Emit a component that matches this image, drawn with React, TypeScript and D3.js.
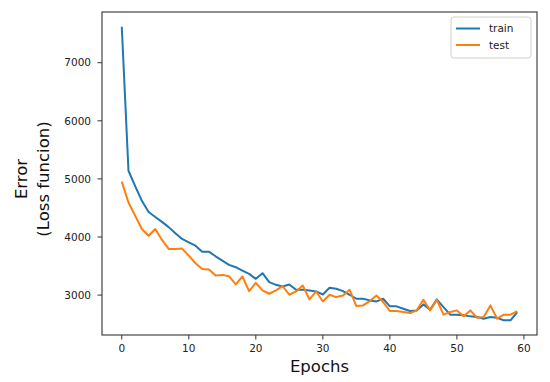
import React from "react";
import * as d3 from "d3";

const epochs = d3.range(0, 60);

const trainLoss = [
  7620, 5140, 4877, 4623, 4430, 4345, 4260, 4170, 4065, 3966,
  3908, 3851, 3748, 3748, 3668, 3594, 3520, 3480, 3423, 3366,
  3280, 3377, 3223, 3177, 3149, 3183, 3091, 3091, 3080, 3063,
  3011, 3126, 3109, 3069, 3006, 2937, 2937, 2909, 2891, 2937,
  2806, 2806, 2766, 2726, 2737, 2840, 2749, 2926, 2794, 2663,
  2663, 2652, 2634, 2623, 2594, 2623, 2611, 2566, 2566, 2709,
];

const testLoss = [
  4954, 4594, 4366, 4138, 4023, 4138, 3949, 3795, 3795, 3800,
  3680, 3548, 3451, 3440, 3337, 3348, 3326, 3183, 3320, 3069,
  3211, 3080, 3023, 3080, 3154, 3006, 3063, 3166, 2926, 3063,
  2891, 3006, 2966, 2994, 3091, 2811, 2823, 2897, 2994, 2880,
  2726, 2726, 2709, 2691, 2737, 2920, 2737, 2920, 2663, 2709,
  2737, 2634, 2737, 2611, 2623, 2823, 2594, 2663, 2663, 2726,
];

const xTicks = [0, 10, 20, 30, 40, 50, 60];
const yTicks = [3000, 4000, 5000, 6000, 7000];

const seriesNames = ["train", "test"];
const seriesColors = ["#1f77b4", "#ff7f0e"];

const App: React.FC = () => {
  const width = 550;
  const height = 382;
  const margin = { top: 12, right: 13, bottom: 47, left: 102 };
  const innerWidth = width - margin.left - margin.right;
  const innerHeight = height - margin.top - margin.bottom;

  // matplotlib style 5% margins around the data
  const xPad = (d3.max(epochs)! - d3.min(epochs)!) * 0.05;
  const allY = trainLoss.concat(testLoss);
  const yMin = d3.min(allY)!;
  const yMax = d3.max(allY)!;
  const yPad = (yMax - yMin) * 0.05;

  const xScale = d3
    .scaleLinear()
    .domain([d3.min(epochs)! - xPad, d3.max(epochs)! + xPad])
    .range([0, innerWidth]);

  const yScale = d3
    .scaleLinear()
    .domain([yMin - yPad, yMax + yPad])
    .range([innerHeight, 0]);

  const line = d3
    .line<number>()
    .x((_, i) => xScale(epochs[i]))
    .y((d) => yScale(d));

  const font = "'DejaVu Sans', sans-serif";
  const tickColor = "#222";

  return (
    <div style={{ position: "absolute", left: 0, top: 0 }}>
      <svg width={width} height={height} style={{ display: "block", background: "white" }}>
        <g transform={`translate(${margin.left}, ${margin.top})`}>
          {/* lines */}
          {[trainLoss, testLoss].map((vals, i) => (
            <path
              key={seriesNames[i]}
              d={line(vals) ?? ""}
              fill="none"
              stroke={seriesColors[i]}
              strokeWidth={2}
              strokeLinejoin="round"
            />
          ))}

          {/* frame */}
          <rect
            x={0}
            y={0}
            width={innerWidth}
            height={innerHeight}
            fill="none"
            stroke="#333"
            strokeWidth={1.1}
          />

          {/* x axis */}
          {xTicks.map((t) => (
            <g key={`x-${t}`} transform={`translate(${xScale(t)}, ${innerHeight})`}>
              <line y1={0} y2={4.5} stroke="#333" strokeWidth={1} />
              <text
                y={17}
                textAnchor="middle"
                fontFamily={font}
                fontSize={10.5}
                fill={tickColor}
              >
                {t}
              </text>
            </g>
          ))}

          {/* y axis */}
          {yTicks.map((t) => (
            <g key={`y-${t}`} transform={`translate(0, ${yScale(t)})`}>
              <line x1={0} x2={-4.5} stroke="#333" strokeWidth={1} />
              <text
                x={-11}
                dy="0.36em"
                textAnchor="end"
                fontFamily={font}
                fontSize={10.5}
                fill={tickColor}
              >
                {t}
              </text>
            </g>
          ))}

          {/* legend */}
          <g transform={`translate(${innerWidth - 86}, 5)`}>
            <rect
              x={0}
              y={0}
              width={80}
              height={41}
              rx={3}
              fill="white"
              fillOpacity={0.8}
              stroke="#d0d0d0"
              strokeWidth={1}
            />
            {seriesNames.map((name, i) => (
              <g key={name} transform={`translate(0, ${11.5 + i * 16.5})`}>
                <line x1={5} x2={29} stroke={seriesColors[i]} strokeWidth={2} />
                <text
                  x={38}
                  dy="0.35em"
                  fontFamily={font}
                  fontSize={10.5}
                  fill={tickColor}
                >
                  {name}
                </text>
              </g>
            ))}
          </g>
        </g>

        {/* axis labels */}
        <text
          x={margin.left + innerWidth / 2}
          y={371.5}
          textAnchor="middle"
          fontFamily={font}
          fontSize={16.5}
          fill="#111"
        >
          Epochs
        </text>
        <g transform="translate(0, 179) rotate(-90)">
          <text
            x={0}
            y={27}
            textAnchor="middle"
            fontFamily={font}
            fontSize={16.5}
            fill="#111"
          >
            Error
          </text>
          <text
            x={0}
            y={49}
            textAnchor="middle"
            fontFamily={font}
            fontSize={16.5}
            fill="#111"
          >
            (Loss funcion)
          </text>
        </g>
      </svg>
    </div>
  );
};

export default App;
